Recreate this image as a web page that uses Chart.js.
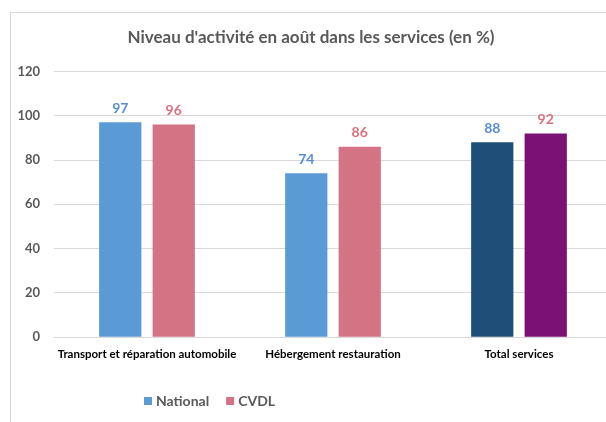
<!DOCTYPE html>
<html>
<head>
<meta charset="utf-8">
<script src="https://cdn.jsdelivr.net/npm/chart.js@4.4.1/dist/chart.umd.min.js"></script>
<style>
  html, body { margin: 0; padding: 0; background: #fff; overflow: hidden; }
  #wrap { width: 612px; height: 422px; }
</style>
</head>
<body>
<div id="wrap"><canvas id="activiteChart"></canvas></div>
<script>
// Données
const categories = ["Transport et réparation automobile", "Hébergement restauration", "Total services"];
const valeursNational = [97, 74, 88];
const valeursCVDL = [96, 86, 92];
const couleursNational = ["#5B9BD5", "#5B9BD5", "#1F4E79"];
const couleursCVDL = ["#D47383", "#D47383", "#7B1174"];
const yTicks = [0, 20, 40, 60, 80, 100, 120];

const gris = "#595959";
const police = "Lato, 'DejaVu Sans', sans-serif";

// Cadre gris autour du graphique
const cadrePlugin = {
  id: "cadre",
  beforeDraw(chart) {
    const ctx = chart.ctx;
    ctx.save();
    ctx.strokeStyle = "#D9D9D9";
    ctx.lineWidth = 1;
    ctx.strokeRect(10.5, 12.5, chart.width + 20, chart.height + 20);
    ctx.restore();
  },
};

// Étiquettes de valeurs au-dessus des barres
const etiquettesPlugin = {
  id: "etiquettes",
  afterDatasetsDraw(chart) {
    const ctx = chart.ctx;
    ctx.save();
    ctx.font = "bold 14px " + police;
    ctx.textAlign = "center";
    ctx.textBaseline = "bottom";
    chart.data.datasets.forEach((ds, i) => {
      const meta = chart.getDatasetMeta(i);
      ctx.fillStyle = ds.labelColor;
      meta.data.forEach((bar, j) => {
        ctx.fillText(ds.data[j], bar.x, bar.y - 7);
      });
    });
    ctx.restore();
  },
};

// Légende dessinée à la main (position comme l'original)
const legendePlugin = {
  id: "legende",
  afterDraw(chart) {
    const ctx = chart.ctx;
    ctx.save();
    ctx.font = "bold 14px " + police;
    ctx.textBaseline = "middle";
    let x = 144;
    const y = 401;
    chart.data.datasets.forEach((ds) => {
      ctx.fillStyle = ds.legendColor;
      ctx.fillRect(x, y - 4, 8, 8);
      ctx.fillStyle = gris;
      ctx.textAlign = "left";
      ctx.fillText(ds.label, x + 12, y);
      x += 12 + ctx.measureText(ds.label).width + 17;
    });
    ctx.restore();
  },
};

const ctxActivite = document.getElementById("activiteChart").getContext("2d");

new Chart(ctxActivite, {
  type: "bar",
  data: {
    labels: categories,
    datasets: [
      {
        label: "National",
        data: valeursNational,
        backgroundColor: couleursNational,
        labelColor: "#5B8DD0",
        legendColor: "#5B9BD5",
        categoryPercentage: 0.575,
        barPercentage: 0.79,
      },
      {
        label: "CVDL",
        data: valeursCVDL,
        backgroundColor: couleursCVDL,
        labelColor: "#D9707F",
        legendColor: "#D47383",
        categoryPercentage: 0.575,
        barPercentage: 0.79,
      },
    ],
  },
  options: {
    responsive: true,
    maintainAspectRatio: false,
    animation: false,
    layout: {
      padding: { left: 10, right: 0, top: 0, bottom: 51 },
    },
    plugins: {
      legend: { display: false },
      tooltip: { enabled: false },
      title: {
        display: true,
        text: "Niveau d'activité en août dans les services (en %)",
        color: gris,
        font: { family: police, size: 17, weight: "bold" },
        padding: { top: 27, bottom: 24 },
      },
    },
    scales: {
      x: {
        grid: { display: false, drawTicks: false },
        border: { display: false },
        ticks: {
          color: "#000",
          font: { family: police, size: 11.5, weight: "bold" },
          padding: 10,
          maxRotation: 0,
          autoSkip: false,
        },
      },
      y: {
        min: 0,
        max: 120,
        afterBuildTicks(scale) {
          scale.ticks = yTicks.map((v) => ({ value: v }));
        },
        afterFit(scale) {
          scale.width = 44;
        },
        grid: { color: "#D9D9D9", drawTicks: false },
        border: { display: false },
        ticks: {
          color: gris,
          font: { family: police, size: 13, weight: "bold" },
          padding: 14,
        },
      },
    },
  },
  plugins: [cadrePlugin, etiquettesPlugin, legendePlugin],
});
</script>
</body>
</html>
